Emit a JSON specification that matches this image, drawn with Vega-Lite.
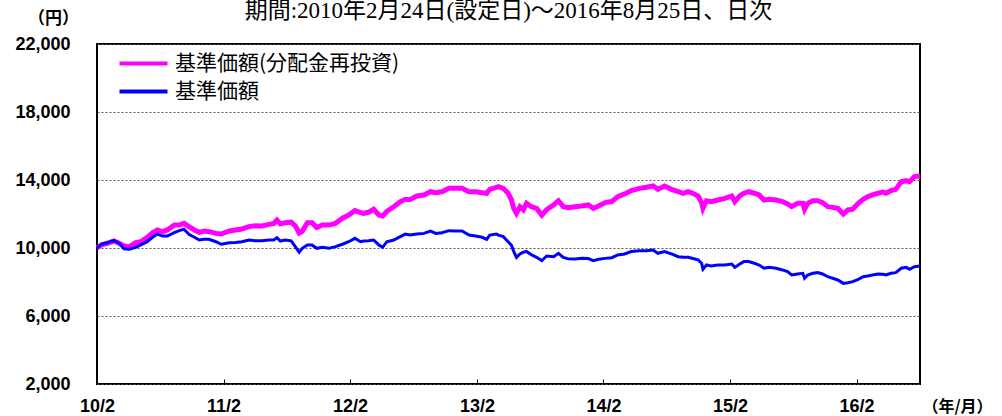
{
  "$schema": "https://vega.github.io/schema/vega-lite/v6.json",
  "width": 823,
  "height": 340,
  "autosize": "none",
  "padding": {"left": 97, "top": 44, "right": 82, "bottom": 32},
  "background": "white",
  "title": {
    "text": "期間:2010年2月24日(設定日)～2016年8月25日、日次",
    "font": "Liberation Serif, Noto Sans CJK JP",
    "fontSize": 23,
    "fontWeight": "normal",
    "color": "black",
    "anchor": "middle",
    "frame": "group",
    "baseline": "bottom",
    "offset": -37
  },
  "config": {
    "view": {"stroke": "black", "strokeWidth": 2},
    "axis": {
      "labelFont": "Liberation Sans",
      "labelFontWeight": "bold",
      "labelFontSize": 18,
      "labelColor": "black",
      "titleFont": "Noto Sans CJK JP",
      "titleFontWeight": "bold",
      "titleColor": "black"
    }
  },
  "data": {
    "values": [
      {"date": "2010-02-24", "基準価額(分配金再投資)": 10000, "基準価額": 10000},
      {"date": "2010-03-09", "基準価額(分配金再投資)": 10180, "基準価額": 10240},
      {"date": "2010-03-26", "基準価額(分配金再投資)": 10280, "基準価額": 10310},
      {"date": "2010-04-14", "基準価額(分配金再投資)": 10410, "基準価額": 10430},
      {"date": "2010-04-29", "基準価額(分配金再投資)": 10280, "基準価額": 10280},
      {"date": "2010-05-13", "基準価額(分配金再投資)": 10120, "基準価額": 9950},
      {"date": "2010-05-28", "基準価額(分配金再投資)": 10080, "基準価額": 9930},
      {"date": "2010-06-16", "基準価額(分配金再投資)": 10310, "基準価額": 10040},
      {"date": "2010-06-30", "基準価額(分配金再投資)": 10370, "基準価額": 10180},
      {"date": "2010-07-19", "基準価額(分配金再投資)": 10630, "基準価額": 10370},
      {"date": "2010-08-03", "基準価額(分配金再投資)": 10900, "基準価額": 10630},
      {"date": "2010-08-17", "基準価額(分配金再投資)": 11060, "基準価額": 10820},
      {"date": "2010-09-01", "基準価額(分配金再投資)": 10960, "基準価額": 10700},
      {"date": "2010-09-15", "基準価額(分配金再投資)": 11060, "基準価額": 10700},
      {"date": "2010-10-05", "基準価額(分配金再投資)": 11350, "基準価額": 10900},
      {"date": "2010-10-19", "基準価額(分配金再投資)": 11350, "基準価額": 11020},
      {"date": "2010-11-02", "基準価額(分配金再投資)": 11450, "基準価額": 11100},
      {"date": "2010-11-16", "基準価額(分配金再投資)": 11260, "基準価額": 10800},
      {"date": "2010-12-02", "基準価額(分配金再投資)": 11060, "基準価額": 10630},
      {"date": "2010-12-16", "基準価額(分配金再投資)": 10920, "基準価額": 10470},
      {"date": "2010-12-30", "基準価額(分配金再投資)": 11000, "基準価額": 10510},
      {"date": "2011-01-13", "基準価額(分配金再投資)": 10960, "基準価額": 10510},
      {"date": "2011-02-02", "基準価額(分配金再投資)": 10860, "基準価額": 10370},
      {"date": "2011-02-17", "基準価額(分配金再投資)": 10820, "基準価額": 10220},
      {"date": "2011-03-13", "基準価額(分配金再投資)": 11000, "基準価額": 10310},
      {"date": "2011-03-30", "基準価額(分配金再投資)": 11060, "基準価額": 10330},
      {"date": "2011-04-18", "基準価額(分配金再投資)": 11120, "基準価額": 10370},
      {"date": "2011-05-08", "基準価額(分配金再投資)": 11260, "基準価額": 10470},
      {"date": "2011-05-27", "基準価額(分配金再投資)": 11310, "基準価額": 10430},
      {"date": "2011-06-15", "基準価額(分配金再投資)": 11300, "基準価額": 10430},
      {"date": "2011-07-05", "基準価額(分配金再投資)": 11390, "基準価額": 10470},
      {"date": "2011-07-19", "基準価額(分配金再投資)": 11450, "基準価額": 10470},
      {"date": "2011-07-28", "基準価額(分配金再投資)": 11650, "基準価額": 10610},
      {"date": "2011-08-07", "基準価額(分配金再投資)": 11410, "基準価額": 10410},
      {"date": "2011-08-21", "基準価額(分配金再投資)": 11490, "基準価額": 10470},
      {"date": "2011-09-07", "基準価額(分配金再投資)": 11520, "基準価額": 10420},
      {"date": "2011-09-19", "基準価額(分配金再投資)": 11300, "基準価額": 10080},
      {"date": "2011-09-30", "基準価額(分配金再投資)": 10880, "基準価額": 9750},
      {"date": "2011-10-09", "基準価額(分配金再投資)": 10980, "基準価額": 9980},
      {"date": "2011-10-24", "基準価額(分配金再投資)": 11490, "基準価額": 10180},
      {"date": "2011-11-06", "基準価額(分配金再投資)": 11490, "基準価額": 10180},
      {"date": "2011-11-20", "基準価額(分配金再投資)": 11200, "基準価額": 9980},
      {"date": "2011-12-06", "基準価額(分配金再投資)": 11350, "基準価額": 10040},
      {"date": "2011-12-25", "基準価額(分配金再投資)": 11350, "基準価額": 9980},
      {"date": "2012-01-13", "基準価額(分配金再投資)": 11450, "基準価額": 10080},
      {"date": "2012-02-02", "基準価額(分配金再投資)": 11750, "基準価額": 10220},
      {"date": "2012-02-20", "基準価額(分配金再投資)": 11940, "基準価額": 10370},
      {"date": "2012-03-09", "基準価額(分配金再投資)": 12200, "基準価額": 10570},
      {"date": "2012-03-25", "基準価額(分配金再投資)": 12080, "基準価額": 10370},
      {"date": "2012-04-03", "基準価額(分配金再投資)": 12040, "基準価額": 10410},
      {"date": "2012-04-17", "基準価額(分配金再投資)": 12100, "基準価額": 10430},
      {"date": "2012-05-02", "基準価額(分配金再投資)": 12280, "基準価額": 10470},
      {"date": "2012-05-17", "基準価額(分配金再投資)": 11940, "基準価額": 10180},
      {"date": "2012-05-28", "基準価額(分配金再投資)": 11880, "基準価額": 10040},
      {"date": "2012-06-09", "基準価額(分配金再投資)": 12150, "基準価額": 10370},
      {"date": "2012-06-29", "基準価額(分配金再投資)": 12430, "基準価額": 10470},
      {"date": "2012-07-18", "基準価額(分配金再投資)": 12720, "基準価額": 10670},
      {"date": "2012-08-01", "基準価額(分配金再投資)": 12860, "基準価額": 10820},
      {"date": "2012-08-15", "基準価額(分配金再投資)": 12860, "基準価額": 10760},
      {"date": "2012-09-04", "基準価額(分配金再投資)": 13060, "基準価額": 10820},
      {"date": "2012-09-24", "基準価額(分配金再投資)": 13120, "基準価額": 10860},
      {"date": "2012-10-13", "基準価額(分配金再投資)": 13310, "基準価額": 11000},
      {"date": "2012-10-28", "基準価額(分配金再投資)": 13250, "基準価額": 10860},
      {"date": "2012-11-15", "基準価額(分配金再投資)": 13310, "基準価額": 10900},
      {"date": "2012-12-05", "基準価額(分配金再投資)": 13510, "基準価額": 11020},
      {"date": "2012-12-24", "基準価額(分配金再投資)": 13510, "基準価額": 11000},
      {"date": "2013-01-12", "基準価額(分配金再投資)": 13510, "基準価額": 11000},
      {"date": "2013-02-01", "基準価額(分配金再投資)": 13310, "基準価額": 10760},
      {"date": "2013-02-20", "基準価額(分配金再投資)": 13310, "基準価額": 10700},
      {"date": "2013-03-11", "基準価額(分配金再投資)": 13250, "基準価額": 10630},
      {"date": "2013-03-24", "基準価額(分配金再投資)": 13220, "基準価額": 10510},
      {"date": "2013-04-02", "基準価額(分配金再投資)": 13450, "基準価額": 10760},
      {"date": "2013-04-21", "基準価額(分配金再投資)": 13570, "基準価額": 10820},
      {"date": "2013-04-27", "基準価額(分配金再投資)": 13610, "基準価額": 10760},
      {"date": "2013-05-11", "基準価額(分配金再投資)": 13510, "基準価額": 10670},
      {"date": "2013-05-25", "基準価額(分配金再投資)": 13220, "基準価額": 10370},
      {"date": "2013-06-04", "基準価額(分配金再投資)": 12820, "基準価額": 10150},
      {"date": "2013-06-10", "基準価額(分配金再投資)": 12330, "基準価額": 9800},
      {"date": "2013-06-18", "基準価額(分配金再投資)": 12040, "基準価額": 9450},
      {"date": "2013-06-28", "基準価額(分配金再投資)": 12430, "基準価額": 9650},
      {"date": "2013-07-08", "基準価額(分配金再投資)": 12240, "基準価額": 9750},
      {"date": "2013-07-17", "基準価額(分配金再投資)": 12630, "基準価額": 9800},
      {"date": "2013-07-31", "基準価額(分配金再投資)": 12430, "基準価額": 9600},
      {"date": "2013-08-15", "基準価額(分配金再投資)": 12330, "基準価額": 9450},
      {"date": "2013-08-30", "基準価額(分配金再投資)": 11940, "基準価額": 9260},
      {"date": "2013-09-13", "基準価額(分配金再投資)": 12250, "基準価額": 9530},
      {"date": "2013-10-03", "基準価額(分配金再投資)": 12530, "基準価額": 9490},
      {"date": "2013-10-17", "基準価額(分配金再投資)": 12780, "基準価額": 9690},
      {"date": "2013-10-31", "基準価額(分配金再投資)": 12430, "基準価額": 9450},
      {"date": "2013-11-14", "基準価額(分配金再投資)": 12370, "基準価額": 9360},
      {"date": "2013-12-04", "基準価額(分配金再投資)": 12430, "基準価額": 9350},
      {"date": "2013-12-23", "基準価額(分配金再投資)": 12470, "基準価額": 9390},
      {"date": "2014-01-11", "基準価額(分配金再投資)": 12530, "基準価額": 9380},
      {"date": "2014-01-26", "基準価額(分配金再投資)": 12330, "基準価額": 9260},
      {"date": "2014-02-10", "基準価額(分配金再投資)": 12470, "基準価額": 9340},
      {"date": "2014-03-01", "基準価額(分配金再投資)": 12670, "基準価額": 9390},
      {"date": "2014-03-20", "基準価額(分配金再投資)": 12730, "基準価額": 9430},
      {"date": "2014-04-06", "基準価額(分配金再投資)": 13020, "基準価額": 9590},
      {"date": "2014-04-26", "基準価額(分配金再投資)": 13180, "基準価額": 9650},
      {"date": "2014-05-15", "基準価額(分配金再投資)": 13370, "基準価額": 9790},
      {"date": "2014-06-08", "基準価額(分配金再投資)": 13510, "基準価額": 9840},
      {"date": "2014-06-28", "基準価額(分配金再投資)": 13570, "基準価額": 9840},
      {"date": "2014-07-17", "基準価額(分配金再投資)": 13650, "基準価額": 9880},
      {"date": "2014-07-31", "基準価額(分配金再投資)": 13450, "基準価額": 9690},
      {"date": "2014-08-19", "基準価額(分配金再投資)": 13650, "基準価額": 9790},
      {"date": "2014-09-08", "基準価額(分配金再投資)": 13450, "基準価額": 9650},
      {"date": "2014-09-28", "基準価額(分配金再投資)": 13310, "基準価額": 9490},
      {"date": "2014-10-12", "基準価額(分配金再投資)": 13220, "基準価額": 9450},
      {"date": "2014-10-26", "基準価額(分配金再投資)": 13310, "基準価額": 9450},
      {"date": "2014-11-09", "基準価額(分配金再投資)": 13220, "基準価額": 9380},
      {"date": "2014-11-24", "基準価額(分配金再投資)": 13060, "基準価額": 9300},
      {"date": "2014-12-04", "基準価額(分配金再投資)": 12670, "基準価額": 9100},
      {"date": "2014-12-08", "基準価額(分配金再投資)": 12330, "基準価額": 8750},
      {"date": "2014-12-18", "基準価額(分配金再投資)": 12780, "基準価額": 9000},
      {"date": "2015-01-01", "基準価額(分配金再投資)": 12730, "基準価額": 8940},
      {"date": "2015-01-20", "基準価額(分配金再投資)": 12820, "基準価額": 9000},
      {"date": "2015-02-09", "基準価額(分配金再投資)": 12920, "基準価額": 9000},
      {"date": "2015-03-01", "基準価額(分配金再投資)": 13060, "基準価額": 9060},
      {"date": "2015-03-10", "基準価額(分配金再投資)": 12730, "基準価額": 8860},
      {"date": "2015-03-24", "基準価額(分配金再投資)": 13060, "基準価額": 9060},
      {"date": "2015-04-05", "基準価額(分配金再投資)": 13220, "基準価額": 9200},
      {"date": "2015-04-19", "基準価額(分配金再投資)": 13310, "基準価額": 9200},
      {"date": "2015-05-05", "基準価額(分配金再投資)": 13220, "基準価額": 9100},
      {"date": "2015-05-19", "基準価額(分配金再投資)": 13120, "基準価額": 9000},
      {"date": "2015-06-02", "基準価額(分配金再投資)": 12820, "基準価額": 8810},
      {"date": "2015-06-17", "基準価額(分配金再投資)": 12860, "基準価額": 8860},
      {"date": "2015-07-07", "基準価額(分配金再投資)": 12820, "基準価額": 8810},
      {"date": "2015-07-25", "基準価額(分配金再投資)": 12730, "基準価額": 8710},
      {"date": "2015-08-09", "基準価額(分配金再投資)": 12590, "基準価額": 8610},
      {"date": "2015-08-21", "基準価額(分配金再投資)": 12430, "基準価額": 8410},
      {"date": "2015-09-07", "基準価額(分配金再投資)": 12630, "基準価額": 8470},
      {"date": "2015-09-22", "基準価額(分配金再投資)": 12630, "基準価額": 8510},
      {"date": "2015-09-27", "基準価額(分配金再投資)": 12280, "基準価額": 8220},
      {"date": "2015-10-06", "基準価額(分配金再投資)": 12630, "基準価額": 8410},
      {"date": "2015-10-21", "基準価額(分配金再投資)": 12780, "基準価額": 8510},
      {"date": "2015-11-04", "基準価額(分配金再投資)": 12780, "基準価額": 8550},
      {"date": "2015-11-18", "基準価額(分配金再投資)": 12670, "基準価額": 8470},
      {"date": "2015-12-03", "基準価額(分配金再投資)": 12430, "基準価額": 8310},
      {"date": "2015-12-17", "基準価額(分配金再投資)": 12390, "基準価額": 8220},
      {"date": "2016-01-01", "基準価額(分配金再投資)": 12330, "基準価額": 8120},
      {"date": "2016-01-17", "基準価額(分配金再投資)": 12000, "基準価額": 7920},
      {"date": "2016-01-30", "基準価額(分配金再投資)": 12240, "基準価額": 7960},
      {"date": "2016-02-13", "基準価額(分配金再投資)": 12280, "基準価額": 8020},
      {"date": "2016-02-29", "基準価額(分配金再投資)": 12630, "基準価額": 8160},
      {"date": "2016-03-14", "基準価額(分配金再投資)": 12860, "基準価額": 8310},
      {"date": "2016-03-27", "基準価額(分配金再投資)": 13020, "基準価額": 8350},
      {"date": "2016-04-10", "基準価額(分配金再投資)": 13120, "基準価額": 8410},
      {"date": "2016-04-26", "基準価額(分配金再投資)": 13220, "基準価額": 8470},
      {"date": "2016-05-10", "基準価額(分配金再投資)": 13290, "基準価額": 8450},
      {"date": "2016-05-19", "基準価額(分配金再投資)": 13220, "基準価額": 8410},
      {"date": "2016-06-02", "基準価額(分配金再投資)": 13370, "基準価額": 8510},
      {"date": "2016-06-16", "基準価額(分配金再投資)": 13450, "基準価額": 8550},
      {"date": "2016-07-02", "基準価額(分配金再投資)": 13900, "基準価額": 8810},
      {"date": "2016-07-16", "基準価額(分配金再投資)": 13960, "基準価額": 8860},
      {"date": "2016-07-26", "基準価額(分配金再投資)": 13900, "基準価額": 8750},
      {"date": "2016-08-09", "基準価額(分配金再投資)": 14200, "基準価額": 8900},
      {"date": "2016-08-25", "基準価額(分配金再投資)": 14240, "基準価額": 8940}
    ]
  },
  "transform": [
    {"fold": ["基準価額(分配金再投資)", "基準価額"], "as": ["series", "value"]}
  ],
  "encoding": {
    "x": {
      "field": "date",
      "type": "temporal",
      "scale": {
        "type": "utc",
        "domain": [
          {"year": 2010, "month": 2, "date": 24, "utc": true},
          {"year": 2016, "month": 8, "date": 25, "utc": true}
        ]
      },
      "axis": {
        "values": [
          {"year": 2010, "month": 2, "date": 24, "utc": true},
          {"year": 2011, "month": 2, "date": 24, "utc": true},
          {"year": 2012, "month": 2, "date": 24, "utc": true},
          {"year": 2013, "month": 2, "date": 24, "utc": true},
          {"year": 2014, "month": 2, "date": 24, "utc": true},
          {"year": 2015, "month": 2, "date": 24, "utc": true},
          {"year": 2016, "month": 2, "date": 24, "utc": true}
        ],
        "labelExpr": "utcFormat(datum.value, '%y/%-m')",
        "grid": false,
        "domain": false,
        "ticks": true,
        "tickSize": -5,
        "tickColor": "black",
        "tickWidth": 1,
        "labelPadding": 18,
        "labelAlign": "center",
        "labelFlush": false,
        "labelOverlap": false,
        "title": "（年/月）",
        "titleFontSize": 16,
        "titleAngle": 0,
        "titleX": 860,
        "titleY": 22,
        "titleAlign": "center",
        "titleBaseline": "middle"
      }
    },
    "y": {
      "field": "value",
      "type": "quantitative",
      "scale": {"domain": [2000, 22000], "nice": false, "zero": false},
      "axis": {
        "values": [2000, 6000, 10000, 14000, 18000, 22000],
        "format": ",.0f",
        "ticks": false,
        "domain": false,
        "labelPadding": 27,
        "grid": true,
        "gridDash": [2, 2],
        "gridColor": "#555555",
        "gridWidth": 1,
        "title": "（円）",
        "titleFontSize": 17,
        "titleAngle": 0,
        "titleX": -44,
        "titleY": -26,
        "titleAlign": "center",
        "titleBaseline": "middle"
      }
    },
    "color": {
      "field": "series",
      "type": "nominal",
      "scale": {
        "domain": ["基準価額(分配金再投資)", "基準価額"],
        "range": ["#FF00FF", "#0000FF"]
      },
      "legend": {
        "orient": "none",
        "legendX": 36,
        "legendY": 9,
        "title": null,
        "direction": "vertical",
        "symbolType": "M-4.8,0H4.8",
        "symbolSize": 100,
        "symbolStrokeWidth": 4,
        "labelFont": "Noto Sans CJK JP",
        "labelFontSize": 21,
        "labelLimit": 400,
        "labelColor": "black",
        "labelOffset": 21,
        "rowPadding": 6,
        "padding": 0
      }
    }
  },
  "layer": [
    {
      "transform": [{"filter": "datum.series === '基準価額(分配金再投資)'"}],
      "mark": {"type": "line", "strokeWidth": 5}
    },
    {
      "transform": [{"filter": "datum.series === '基準価額'"}],
      "mark": {"type": "line", "strokeWidth": 3}
    }
  ]
}
